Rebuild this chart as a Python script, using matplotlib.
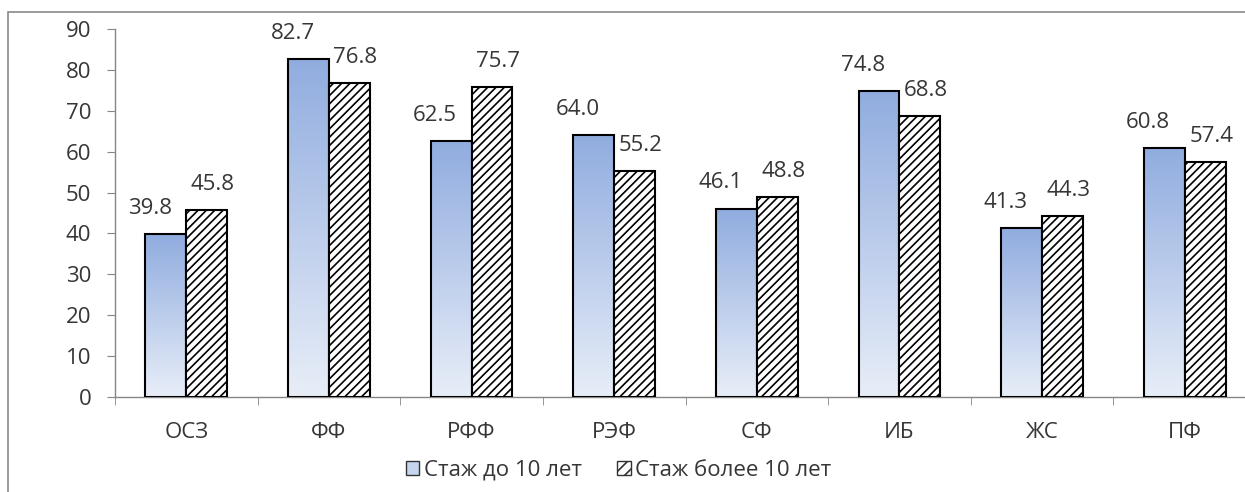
import numpy as np
import matplotlib
matplotlib.use("Agg")
import matplotlib.pyplot as plt
from matplotlib.patches import Rectangle, Patch
from matplotlib.colors import LinearSegmentedColormap
from matplotlib.transforms import offset_copy

categories = ["ОСЗ", "ФФ", "РФФ", "РЭФ", "СФ", "ИБ", "ЖС", "ПФ"]
series_names = ["Стаж до 10 лет", "Стаж более 10 лет"]
under10 = [39.8, 82.7, 62.5, 64.0, 46.1, 74.8, 41.3, 60.8]
over10 = [45.8, 76.8, 75.7, 55.2, 48.8, 68.8, 44.3, 57.4]
yticks = [0, 10, 20, 30, 40, 50, 60, 70, 80, 90]

plt.rcParams['font.family'] = ['Open Sans', 'DejaVu Sans']
plt.rcParams['hatch.linewidth'] = 1.2

W, H = 1245, 492
fig = plt.figure(figsize=(W / 100, H / 100), dpi=100)

# outer frame (partly cut off at right/bottom)
fig.patches.append(Rectangle((8 / W, -0.05), 1.1, 1 - 12 / H + 0.05,
                             transform=fig.transFigure, fill=False,
                             edgecolor='#8a8a8a', linewidth=1.2))

ax_l, ax_r = 115 / W, 1256 / W
ax_b, ax_t = 1 - 397 / H, 1 - 29 / H
ax = fig.add_axes([ax_l, ax_b, ax_r - ax_l, ax_t - ax_b])

x = np.arange(len(categories))
bw = 0.287
text_color = '#363636'
spine_color = '#868686'
fs = 16

b1 = ax.bar(x - bw / 2, under10, bw, facecolor='none', edgecolor='black',
            linewidth=1.5, zorder=3)
b2 = ax.bar(x + bw / 2, over10, bw, facecolor='white', edgecolor='black',
            hatch='////', linewidth=1.5, zorder=3)

cmap = LinearSegmentedColormap.from_list('g', ['#e8eef8', '#90acdf'])
grad = np.linspace(0, 1, 256).reshape(-1, 1)
for rect in b1:
    x0, y0 = rect.get_x(), rect.get_y()
    w, h = rect.get_width(), rect.get_height()
    im = ax.imshow(grad, cmap=cmap, aspect='auto', origin='lower',
                   extent=[x0, x0 + w, y0, y0 + h], zorder=2,
                   interpolation='bilinear')
    im.set_clip_path(rect)

ax.set_xlim(-0.5, len(categories) - 0.5)
ax.set_ylim(0, 90)
ax.set_yticks(yticks)
ax.set_xticks(x)
ax.set_xticklabels(categories)
ax.set_xticks(np.arange(len(categories) + 1) - 0.5, minor=True)

for s in ['top', 'right']:
    ax.spines[s].set_visible(False)
for s in ['left', 'bottom']:
    ax.spines[s].set_color(spine_color)
    ax.spines[s].set_linewidth(1.0)

ax.tick_params(axis='x', which='major', length=0, pad=18,
               labelsize=fs, labelcolor=text_color)
ax.tick_params(axis='x', which='minor', length=6, color=spine_color,
               direction='out')
ax.tick_params(axis='y', length=6, color=spine_color, pad=11,
               labelsize=fs, labelcolor=text_color)

for rects, vals, dx in ((b1, under10, -16), (b2, over10, 6)):
    for rect, v in zip(rects, vals):
        tr = offset_copy(ax.transData, fig=fig, x=dx * 0.72, y=14.5, units='points')
        ax.text(rect.get_x() + rect.get_width() / 2, v, f"{v:.1f}",
                transform=tr, ha='center', va='baseline',
                fontsize=fs, color=text_color, zorder=4)

h1 = Patch(facecolor='#c5d4ef', edgecolor='#333333', linewidth=1.0)
h2 = Patch(facecolor='white', edgecolor='#333333', hatch='///', linewidth=1.0)
leg = fig.legend([h1, h2], series_names, loc='center',
                 bbox_to_anchor=(0.497, 1 - 470 / H), ncol=2, frameon=False,
                 fontsize=fs, handlelength=0.6, handleheight=0.6,
                 handletextpad=0.2, columnspacing=1.6, labelcolor=text_color)

fig.savefig('out.png', dpi=100)
